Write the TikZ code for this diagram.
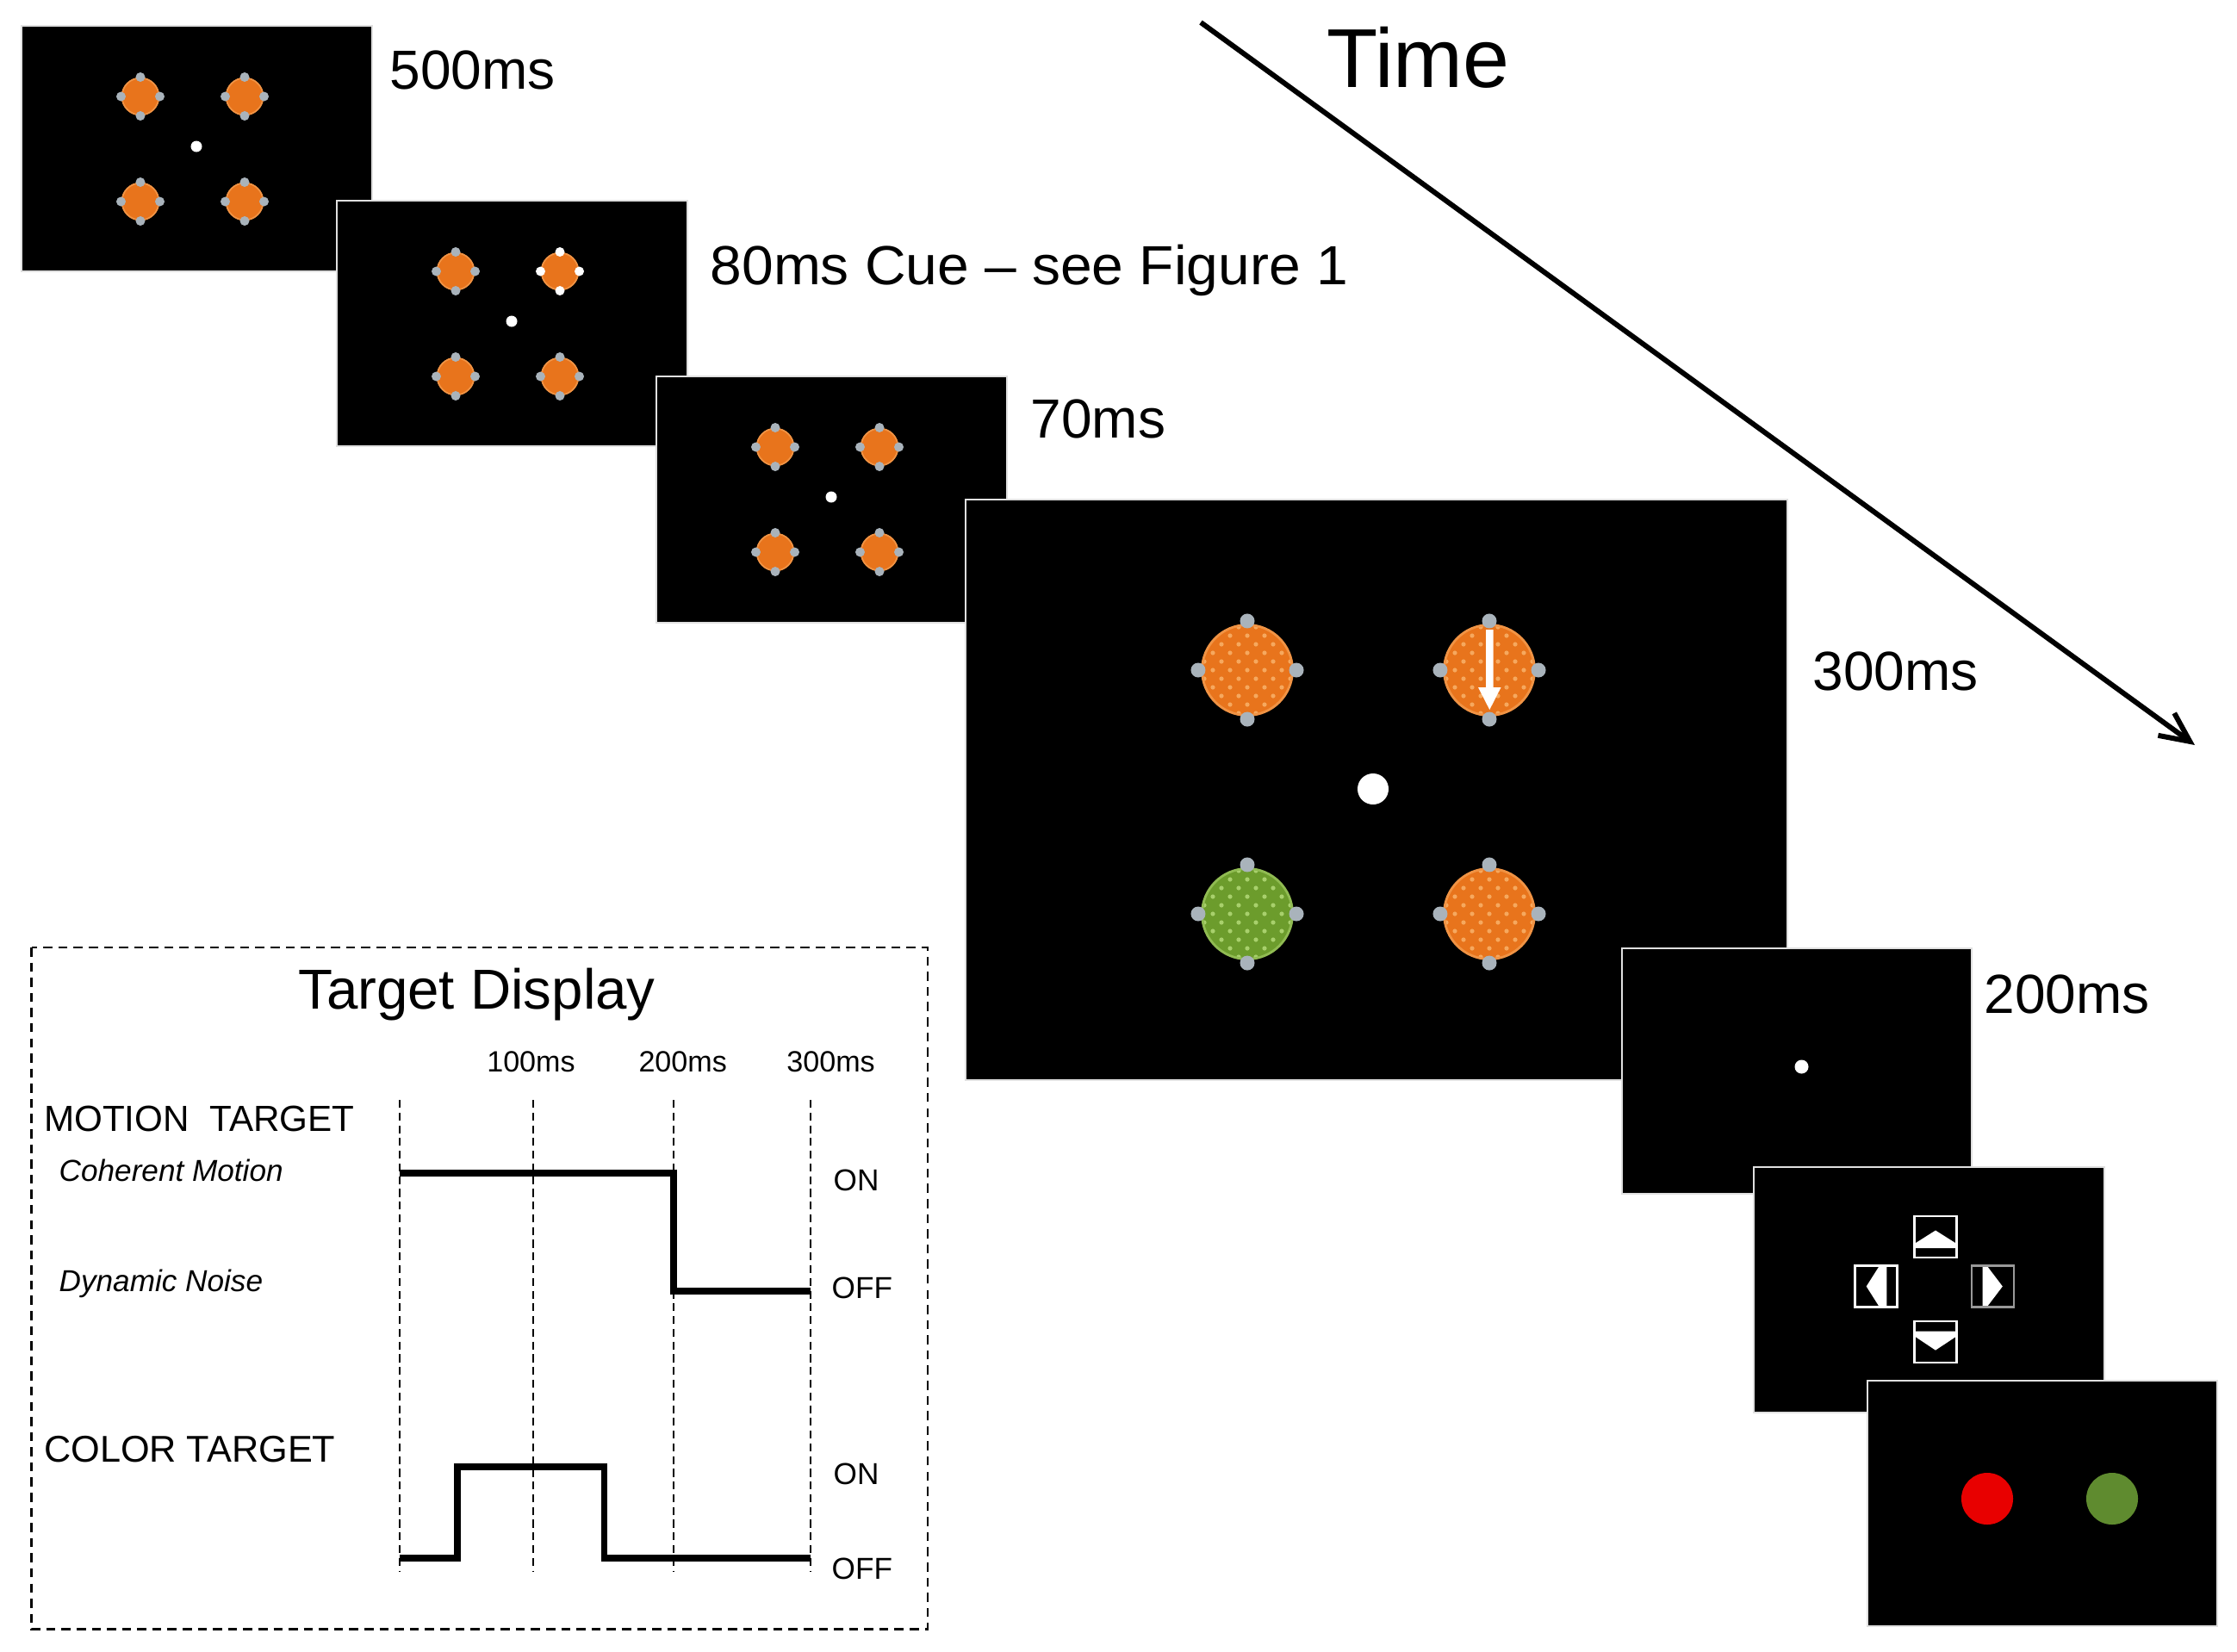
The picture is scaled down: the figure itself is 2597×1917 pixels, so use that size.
\documentclass[tikz,border=0pt]{standalone}
\usepackage{fontspec}
\setmainfont{Liberation Sans}
\usetikzlibrary{arrows.meta}
\definecolor{orng}{HTML}{E8741C}
\definecolor{orngdot}{HTML}{F6A85E}
\definecolor{grn}{HTML}{6C9C2C}
\definecolor{grndot}{HTML}{A8D06C}
\definecolor{bump}{HTML}{A9B3BB}
\definecolor{redd}{HTML}{E80000}
\definecolor{olivegrn}{HTML}{5F8B2F}
\newcommand{\myfs}[1]{\fontsize{#1}{#1}\selectfont}

% small stimulus display: #1,#2 top-left of panel, #3 colour of bumps of upper-right disc
\newcommand{\smallstim}[3]{%
  \foreach \dx/\dy/\bc in {138/82/bump, 259/82/#3, 138/204/bump, 259/204/bump} {
    \fill[orng] (#1+\dx,#2+\dy) circle[radius=0.22cm];
    \draw[orngdot!60!orng, line width=0.5pt] (#1+\dx,#2+\dy) circle[radius=0.215cm];
    \foreach \a in {0,90,180,270}
      \fill[\bc] (#1+\dx,#2+\dy) ++(\a:0.225cm) circle[radius=0.055cm];
  }
  \fill[white] (#1+203,#2+140) circle[radius=0.065cm];
}
% big dotted disc: centre #1,#2, fill #3, dot colour #4
\newcommand{\bigdisc}[4]{%
  \begin{scope}
    \clip (#1,#2) circle[radius=0.53cm];
    \fill[#3] (#1,#2) circle[radius=0.53cm];
    \foreach \i in {-3,...,3} \foreach \j in {-3,...,3} {
      \fill[#4] (#1+20*\i,#2+20*\j) circle[radius=0.026cm];
      \fill[#4] (#1+20*\i+10,#2+20*\j+10) circle[radius=0.026cm];
    }
  \end{scope}
  \draw[#4!60!#3, line width=0.8pt] (#1,#2) circle[radius=0.525cm];
  \foreach \a in {0,90,180,270}
    \fill[bump] (#1,#2) ++(\a:0.57cm) circle[radius=0.085cm];
}

\begin{document}
\begin{tikzpicture}[x=0.01cm,y=-0.01cm,
  panel/.style={fill=black, draw=black!12, line width=0.5pt},
  lbl/.style={inner sep=0, anchor=base west, font=\myfs{18.2pt}},
  tdlbl/.style={inner sep=0, anchor=base west},
  boxframe/.style={fill=none, draw=white, line width=0.7pt},
  trace/.style={line width=2.1pt, line join=miter},
  vdash/.style={line width=0.45pt, dash pattern=on 2.6pt off 1.6pt},
  tdbox/.style={line width=0.6pt, dash pattern=on 3pt off 2pt}]

\fill[white] (0,0) rectangle (2597,1917);
\useasboundingbox (0,0) rectangle (2597,1917);

% ---- panel 1 : 500 ms
\filldraw[panel] (25,30) rectangle (432,315);
\smallstim{25}{30}{bump}
% ---- panel 2 : cue
\filldraw[panel] (391,233) rectangle (798,518);
\smallstim{391}{233}{white}
% ---- panel 3 : 70 ms
\filldraw[panel] (762,437) rectangle (1169,723);
\smallstim{762}{437}{bump}

% ---- panel 4 : target display 300 ms
\filldraw[panel] (1121,580) rectangle (2075,1254);
\bigdisc{1448}{778}{orng}{orngdot}
\bigdisc{1729}{778}{orng}{orngdot}
\bigdisc{1448}{1061}{grn}{grndot}
\bigdisc{1729}{1061}{orng}{orngdot}
\fill[white] (1725,731) -- (1733.5,731) -- (1733.5,798) -- (1742.5,798)
  -- (1729.3,824) -- (1716,798) -- (1725,798) -- cycle;
\fill[white] (1594,916) circle[radius=0.18cm];

% ---- panel 5 : 200 ms
\filldraw[panel] (1883,1101) rectangle (2289,1386);
\fill[white] (2091.5,1238.5) circle[radius=0.08cm];

% ---- panel 6 : response boxes
\filldraw[panel] (2036,1355) rectangle (2443,1640);
% up
\fill[white] (2247,1428.5) -- (2271.5,1444) -- (2271.5,1449) -- (2222.5,1449) -- (2222.5,1444) -- cycle;
\draw[boxframe] (2222.5,1412) rectangle (2271.5,1460);
% down
\fill[white] (2222.5,1545.5) -- (2271.5,1545.5) -- (2271.5,1551.3) -- (2247,1567.6) -- (2222.5,1551.3) -- cycle;
\draw[boxframe] (2222.5,1534) rectangle (2271.5,1582);
% left
\fill[white] (2166.7,1493.5) -- (2181.9,1469.5) -- (2190.3,1469.5) -- (2190.3,1517.5) -- (2181.9,1517.5) -- cycle;
\draw[boxframe] (2153.5,1469.5) rectangle (2202.5,1517.5);
% right
\fill[white] (2301.7,1469.5) -- (2306.6,1469.5) -- (2324.8,1493.5) -- (2306.6,1517.5) -- (2301.7,1517.5) -- cycle;
\draw[boxframe, draw=black!40!white] (2289,1469.5) rectangle (2338,1517.5);

% ---- panel 7 : colour response
\filldraw[panel] (2168,1603) rectangle (2574,1888);
\fill[redd] (2307,1740) circle[radius=0.30cm];
\fill[olivegrn] (2452,1740) circle[radius=0.30cm];

% ---- labels
\node[lbl] (t500) at (452,103) {500ms};
\node[lbl] (t80) at (824,330) {\addfontfeature{FakeStretch=1.03}80ms Cue – see Figure 1};
\node[lbl] (t70) at (1196,508) {70ms};
\node[lbl] (t300) at (2104,801) {300ms};
\node[lbl] (t200) at (2303,1176) {200ms};
\node[lbl, font=\myfs{27.6pt}] (time) at (1540,101.7) {Time};

% ---- time arrow
\coordinate (ts) at (1394,26);
\coordinate (te) at (2548,865);
\draw[line width=1.7pt, -{Straight Barb[length=0.34cm,width=0.32cm]}] (ts) -- (te);

% ---- Target display inset
\draw[tdbox] (36.5,1100) rectangle (1077,1891.5);
\node[inner sep=0, anchor=base, font=\myfs{18.6pt}] (tdt) at (553.5,1171) {Target Display};
\node[inner sep=0, anchor=base, font=\myfs{9.7pt}] (m100) at (616.5,1244) {100ms};
\node[inner sep=0, anchor=base, font=\myfs{9.7pt}] (m200) at (792.7,1244) {200ms};
\node[inner sep=0, anchor=base, font=\myfs{9.7pt}] (m300) at (964.6,1244) {300ms};
\foreach \x in {464,619,782,941} \draw[vdash] (\x,1277) -- (\x,1825);

\draw[trace] (464,1362) -- (782,1362) -- (782,1499) -- (941,1499);
\draw[trace] (464,1809) -- (531,1809) -- (531,1703) -- (701.5,1703) -- (701.5,1809) -- (941,1809);

\node[tdlbl, font=\myfs{12pt}] (mot) at (50.5,1313) {MOTION~~TARGET};
\node[tdlbl, font=\myfs{10pt}\itshape] (coh) at (68,1371) {Coherent Motion};
\node[tdlbl, font=\myfs{10pt}\itshape] (dyn) at (68,1499) {Dynamic Noise};
\node[tdlbl, font=\myfs{12.3pt}] (col) at (50.5,1697) {COLOR TARGET};
\node[tdlbl, font=\myfs{10pt}] (on1) at (967,1382) {ON};
\node[tdlbl, font=\myfs{10pt}] (off1) at (965,1507) {OFF};
\node[tdlbl, font=\myfs{10pt}] (on2) at (967,1723) {ON};
\node[tdlbl, font=\myfs{10pt}] (off2) at (965,1833) {OFF};
\end{tikzpicture}
\end{document}
